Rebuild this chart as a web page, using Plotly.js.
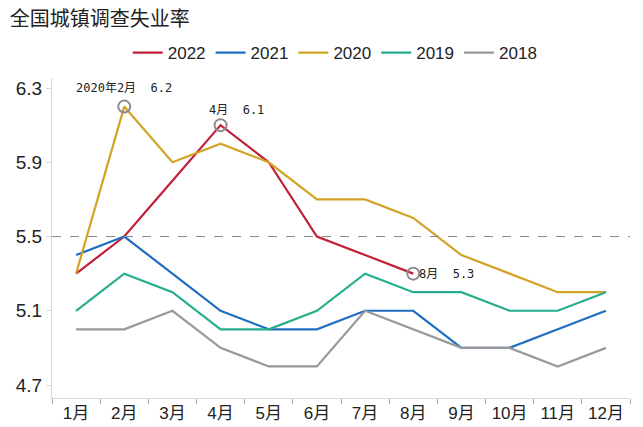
<!DOCTYPE html>
<html><head><meta charset="utf-8">
<script src="https://cdn.plot.ly/plotly-3.0.1.min.js"></script>
<style>body{margin:0;background:#fff}#c{width:643px;height:427px}</style>
</head><body><div id="c"></div>
<script>
const months = ["1月","2月","3月","4月","5月","6月","7月","8月","9月","10月","11月","12月"];
const y2022 = [5.3,5.5,5.8,6.1,5.9,5.5,5.4,5.3];
const y2021 = [5.4,5.5,5.3,5.1,5.0,5.0,5.1,5.1,4.9,4.9,5.0,5.1];
const y2020 = [5.3,6.2,5.9,6.0,5.9,5.7,5.7,5.6,5.4,5.3,5.2,5.2];
const y2019 = [5.1,5.3,5.2,5.0,5.0,5.1,5.3,5.2,5.2,5.1,5.1,5.2];
const y2018 = [5.0,5.0,5.1,4.9,4.8,4.8,5.1,5.0,4.9,4.9,4.8,4.9];
const refLine = 5.5;
const highlights = [
  {series:"2020", idx:1, label:"2020年2月  6.2"},
  {series:"2022", idx:3, label:"4月  6.1"},
  {series:"2022", idx:7, label:"8月  5.3"}
];
const seriesMap = {"2022":y2022,"2021":y2021,"2020":y2020,"2019":y2019,"2018":y2018};
const colors = {"2022":"#C21F3A","2021":"#1F6EC2","2020":"#D3A325","2019":"#25AE8C","2018":"#999999"};
const order = ["2022","2021","2020","2019","2018"];
const font = "Liberation Sans, Arial, Noto Sans CJK SC, sans-serif";

const traces = order.map(k => ({
  type:"scatter", mode:"lines", name:k,
  x: months.slice(0, seriesMap[k].length), y: seriesMap[k],
  line:{color:colors[k], width:2.2}
}));
traces.push({
  type:"scatter", mode:"markers", showlegend:false, hoverinfo:"skip",
  x: highlights.map(h=>months[h.idx]), y: highlights.map(h=>seriesMap[h.series][h.idx]),
  marker:{symbol:"circle-open", size:12, color:"#8c8c8c", line:{width:2, color:"#8c8c8c"}}
});

const annFont = {family:"DejaVu Sans Mono, Noto Sans CJK SC, monospace", size:12, color:"#222"};
const annotations = [
  {x:months[1], y:6.2, text:highlights[0].label, showarrow:false, xref:"x", yref:"y", yshift:19, font:annFont},
  {x:months[3], y:6.1, text:highlights[1].label, showarrow:false, xref:"x", yref:"y", yshift:15, xshift:16, font:annFont},
  {x:months[7], y:5.3, text:highlights[2].label, showarrow:false, xref:"x", yref:"y", xanchor:"left", xshift:4, font:annFont}
];

const layout = {
  width:643, height:427,
  margin:{l:52, r:13, t:78, b:29},
  paper_bgcolor:"#fff", plot_bgcolor:"#fff",
  title:{text:"全国城镇调查失业率", x:0.015, xanchor:"left", y:0.955, yanchor:"middle",
    font:{family:"Noto Sans CJK SC, serif", size:20, color:"#222"}},
  showlegend:true,
  legend:{orientation:"h", x:0.49, xanchor:"center", y:1.078, yanchor:"middle",
    font:{family:font, size:17, color:"#222"}, itemwidth:30, traceorder:"normal"},
  xaxis:{type:"category", range:[-0.5,11.5], showgrid:false, showline:true, linecolor:"#d9d9d9", linewidth:1,
    ticks:"outside", tickson:"boundaries", ticklen:5, tickcolor:"#aaa",
    tickfont:{family:font, size:17, color:"#222"}, zeroline:false, fixedrange:true},
  yaxis:{range:[4.63,6.354], tickvals:[4.7,5.1,5.5,5.9,6.3], ticktext:["4.7","5.1","5.5","5.9","6.3"],
    showgrid:false, showline:true, linecolor:"#d9d9d9", ticks:"outside", ticklen:5, tickcolor:"#d9d9d9",
    tickfont:{family:font, size:19, color:"#222"}, zeroline:false},
  shapes:[{type:"line", xref:"paper", x0:0, x1:1, yref:"y", y0:refLine, y1:refLine,
    line:{color:"#888", width:1, dash:"dash"}}],
  annotations:annotations
};
Plotly.newPlot("c", traces, layout, {displayModeBar:false, staticPlot:true});
</script></body></html>
